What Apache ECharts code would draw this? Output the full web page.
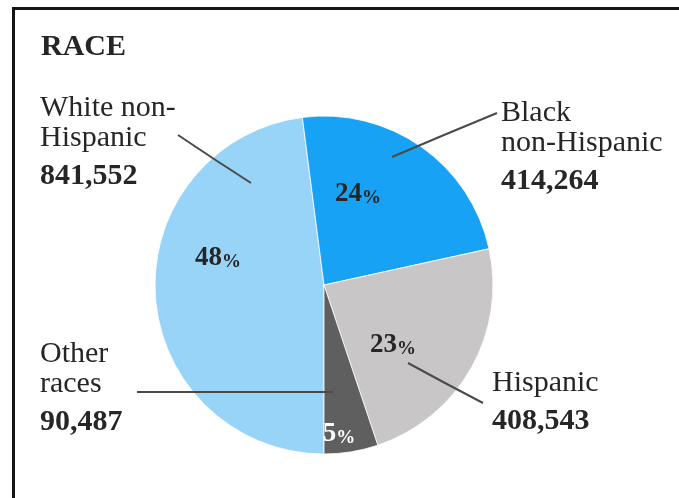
<!DOCTYPE html>
<html>
<head>
<meta charset="utf-8">
<script src="https://cdn.jsdelivr.net/npm/echarts@6/dist/echarts.min.js"></script>
<style>
html,body{margin:0;padding:0;background:#fff;}
#chart{width:679px;height:498px;}
</style>
</head>
<body>
<div id="chart"></div>
<script>
// ---- data ----
var categories = ['White non-\nHispanic', 'Black\nnon-Hispanic', 'Hispanic', 'Other\nraces'];
var counts = [841552, 414264, 408543, 90487];
var countLabels = ['841,552', '414,264', '408,543', '90,487'];
var percents = [48, 24, 23, 5];
var titleText = 'RACE';

// ---- styles / layout ----
var colors = ['#97d4f7', '#17a2f6', '#c8c6c7', '#5f5f5f'];
var pctPos = [[218, 257], [358, 193], [393, 344], [339, 433]];
var namePos = [[40, 93], [501, 98], [492, 368], [40, 339]];
var leaders = [
  [[178, 135], [214, 159], [251, 183]],
  [[497, 113], [444, 135], [392, 157]],
  [[483, 403], [445, 383], [408, 363]],
  [[137, 392], [235, 392], [333, 392]]
];
var FONT = '"Liberation Serif", "DejaVu Serif", serif';
var TXT = '#262626';
var CENTER = [324, 285];
var RADIUS = 169;

var chart = echarts.init(document.getElementById('chart'));

function ghostData() {
  return categories.map(function (c, i) {
    return { name: c, value: counts[i], itemStyle: { color: 'rgba(0,0,0,0)', borderWidth: 0 } };
  });
}

var option = {
  backgroundColor: '#ffffff',
  animation: false,
  title: {
    text: titleText,
    left: 36,
    top: 27,
    textStyle: { fontFamily: FONT, fontSize: 30, fontWeight: 'bold', color: TXT }
  },
  graphic: [{
    type: 'rect',
    shape: { x: 13.5, y: 8.5, width: 720, height: 620 },
    style: { fill: null, stroke: '#151515', lineWidth: 3 },
    silent: true, z: 100
  }],
  series: [
    {
      type: 'pie',
      z: 2,
      center: CENTER,
      radius: [0, RADIUS],
      startAngle: 270,
      clockwise: true,
      silent: true,
      data: categories.map(function (c, i) {
        return { name: c, value: counts[i], itemStyle: { color: colors[i] } };
      }),
      itemStyle: { borderColor: '#ffffff', borderWidth: 0.8 },
      label: { show: false },
      labelLine: { show: false }
    },
    {
      type: 'pie',
      z: 4,
      center: CENTER,
      radius: [0, RADIUS],
      startAngle: 270,
      clockwise: true,
      silent: true,
      avoidLabelOverlap: false,
      data: ghostData(),
      label: {
        show: true,
        position: 'outside',
        overflow: 'none',
        fontFamily: FONT,
        formatter: function (p) {
          var i = p.dataIndex;
          var lines = categories[i].split('\n').map(function (s) { return '{n|' + s + '}'; });
          lines.push('{v|' + countLabels[i] + '}');
          return lines.join('\n');
        },
        rich: {
          n: { fontFamily: FONT, fontSize: 30, lineHeight: 30, color: TXT },
          v: { fontFamily: FONT, fontSize: 30, lineHeight: 46, fontWeight: 'bold', color: TXT }
        }
      },
      labelLine: { show: true, lineStyle: { color: '#4a4a4a', width: 2 } },
      labelLayout: function (p) {
        var i = p.dataIndex;
        return {
          x: namePos[i][0], y: namePos[i][1],
          align: 'left', verticalAlign: 'top',
          labelLinePoints: leaders[i]
        };
      }
    },
    {
      type: 'pie',
      z: 3,
      center: CENTER,
      radius: [0, RADIUS],
      startAngle: 270,
      clockwise: true,
      silent: true,
      avoidLabelOverlap: false,
      data: ghostData(),
      label: {
        show: true,
        position: 'inside',
        formatter: function (p) {
          var i = p.dataIndex;
          var s = i === 3 ? 'w' : '';
          return '{n' + s + '|' + percents[i] + '}{p' + s + '|%}';
        },
        rich: {
          n: { fontFamily: FONT, fontSize: 27, fontWeight: 'bold', color: TXT, lineHeight: 30, verticalAlign: 'bottom' },
          p: { fontFamily: FONT, fontSize: 19, fontWeight: 'bold', color: TXT, lineHeight: 30, verticalAlign: 'bottom' },
          nw: { fontFamily: FONT, fontSize: 27, fontWeight: 'bold', color: '#ffffff', lineHeight: 30, verticalAlign: 'bottom' },
          pw: { fontFamily: FONT, fontSize: 19, fontWeight: 'bold', color: '#ffffff', lineHeight: 30, verticalAlign: 'bottom' }
        }
      },
      labelLine: { show: false },
      labelLayout: function (p) {
        var i = p.dataIndex;
        return { x: pctPos[i][0], y: pctPos[i][1], align: 'center', verticalAlign: 'middle' };
      }
    }
  ]
};
chart.setOption(option);
</script>
</body>
</html>
